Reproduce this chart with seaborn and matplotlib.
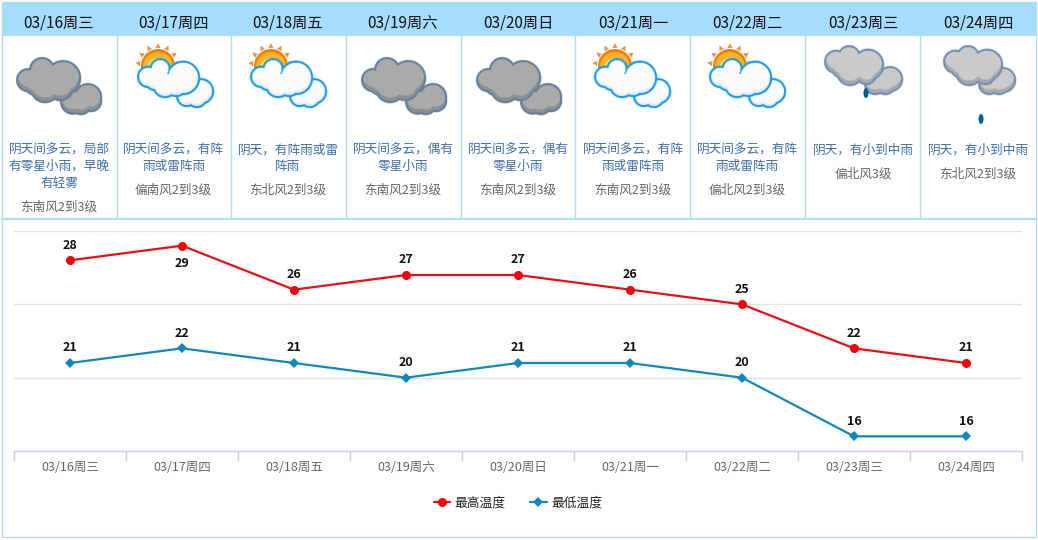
import matplotlib
matplotlib.use('Agg')
import matplotlib.pyplot as plt
from matplotlib.colors import to_rgb
from matplotlib.patches import Circle, Ellipse, Polygon, Rectangle
import seaborn as sns
import numpy as np
import pandas as pd

dias = ['03/16周三', '03/17周四', '03/18周五', '03/19周六', '03/20周日',
        '03/21周一', '03/22周二', '03/23周三', '03/24周四']
maximas = [28, 29, 26, 27, 27, 26, 25, 22, 21]
minimas = [21, 22, 21, 20, 21, 21, 20, 16, 16]
descricao = [
    ['阴天间多云，局部', '有零星小雨，早晚', '有轻雾'],
    ['阴天间多云，有阵', '雨或雷阵雨'],
    ['阴天，有阵雨或雷', '阵雨'],
    ['阴天间多云，偶有', '零星小雨'],
    ['阴天间多云，偶有', '零星小雨'],
    ['阴天间多云，有阵', '雨或雷阵雨'],
    ['阴天间多云，有阵', '雨或雷阵雨'],
    ['阴天，有小到中雨'],
    ['阴天，有小到中雨'],
]
vento = ['东南风2到3级', '偏南风2到3级', '东北风2到3级', '东南风2到3级', '东南风2到3级',
         '东南风2到3级', '偏北风2到3级', '偏北风3级', '东北风2到3级']
rotulo_maxima = '最高温度'
rotulo_minima = '最低温度'

W, H = 1038, 540
AZUL_BORDA = '#B4DCEE'

sns.set_theme(style='white')
plt.rcParams['font.family'] = ['Noto Sans CJK SC', 'DejaVu Sans']

fig = plt.figure(figsize=(W / 100, H / 100), dpi=100, facecolor='white')

# camada de fundo em pixels: tabela de cima e icones
bg = fig.add_axes([0, 0, 1, 1], zorder=0)


def nuvem(dx, lobos, borda, fundo, claro, lw=2.4, sombra=3.5):
    """Rasteriza uma nuvem a partir da distancia aos lobos (borda, sombra e parte clara)."""
    lobos = [(x + dx, y, r) for x, y, r in lobos]
    x0 = min(x - r for x, y, r in lobos) - 5
    x1 = max(x + r for x, y, r in lobos) + 5
    y0 = min(y - r for x, y, r in lobos) - 5
    y1 = max(y + r for x, y, r in lobos) + 5
    xx, yy = np.meshgrid(np.arange(x0, x1, 0.25), np.arange(y0, y1, 0.25))

    def dist(desloc):
        return np.min([np.hypot(xx - x, yy - y - desloc) - r for x, y, r in lobos], axis=0)

    d = dist(0)
    d_alto = dist(-sombra)
    img = np.zeros(xx.shape + (4,))
    img[..., :3] = to_rgb(fundo)
    img[d_alto < 0] = (*to_rgb(claro), 1)
    img[d >= 0] = (*to_rgb(borda), 1)
    img[..., 3] = np.clip((lw - d) * 2, 0, 1)
    bg.imshow(img, extent=(x0, x1, y1, y0), aspect='auto', interpolation='antialiased', zorder=3)


def icone_cinza(dx):
    tras = [(87, 97, 12), (72, 102, 10.5), (90, 101, 9), (80, 104, 9)]
    frente = [(28, 80, 10), (42, 70, 11), (63, 78, 16), (45, 88, 13), (60, 87, 12), (36, 83, 11)]
    nuvem(dx, tras, '#64809F', '#8F8F8F', '#ABABAB')
    nuvem(dx, frente, '#64809F', '#8F8F8F', '#ABABAB')


def icone_sol(dx):
    cx, cy = 158, 66
    for ang in np.linspace(172, 8, 7):
        a = np.radians(ang)
        u = np.array([np.cos(a), -np.sin(a)])
        n = np.array([-u[1], u[0]])
        c = np.array([cx + dx, cy])
        bg.add_patch(Polygon([c + u * 18 + n * 2.6, c + u * 18 - n * 2.6, c + u * 23],
                             fc='#E8974A', ec='none', zorder=2))
    bg.add_patch(Circle((cx + dx, cy), 17, fc='#E8830F', ec='none', zorder=2))
    bg.add_patch(Circle((cx + dx, cy + 1), 15, fc='#FBB32A', ec='none', zorder=2))
    bg.add_patch(Circle((cx + dx, cy + 3), 11, fc='#FFE24A', ec='none', zorder=2))
    tras = [(200, 92, 11), (186, 97, 8.5), (196, 98, 8.5)]
    frente = [(148, 77, 9), (160, 69, 8.5), (183, 78, 15), (165, 85, 11), (176, 85, 10), (155, 80, 9)]
    nuvem(dx, tras, '#1C9DE8', '#EDEDED', '#FBFBFB', sombra=2.5)
    nuvem(dx, frente, '#1C9DE8', '#EDEDED', '#FBFBFB', sombra=2.5)


def icone_chuva(dx, tras):
    frente = [(836, 62, 10), (849, 57, 9.5), (868, 65, 14), (850, 72, 12), (866, 74, 9), (843, 66, 11)]
    nuvem(dx, tras, '#7291B5', '#A9A9A9', '#CBCBCB')
    nuvem(dx, frente, '#7291B5', '#A9A9A9', '#CBCBCB')


# faixa do cabecalho e bordas
bg.add_patch(Rectangle((2, 2), 1034, 34, fc='#A6DDFF', ec='none'))
bg.add_patch(Rectangle((2, 2), 1034, 535, fc='none', ec=AZUL_BORDA, lw=1))
bg.plot([2, 1036], [219, 219], color=AZUL_BORDA, lw=1.6)
for x in [116.5, 230.5, 345.5, 460.5, 575, 690, 805, 920]:
    bg.plot([x, x], [36, 218], color=AZUL_BORDA, lw=1)

centros = [59, 173.5, 288, 403, 518, 633, 747, 863, 978]
for cx, dia, desc, v in zip(centros, dias, descricao, vento):
    bg.text(cx, 23, dia, ha='center', va='center', fontsize=11, color='#111111')
    for i, linha in enumerate(desc):
        bg.text(cx, 150 + 16.5 * i, linha, ha='center', va='center', fontsize=9.1, color='#3F6FA8')
    bg.text(cx, 151 + 16.5 * len(desc) + 6.5, v, ha='center', va='center', fontsize=9.1, color='#666666')

for dx in [0, 345, 460]:
    icone_cinza(dx)
for dx in [0, 113, 457, 572]:
    icone_sol(dx)

icone_chuva(0, [(890, 79, 11), (875, 84, 9), (885, 84, 9)])
icone_chuva(119, [(884, 80, 11), (870, 84, 9), (880, 84, 9)])
for x, y in [(866, 93), (981, 119)]:
    bg.add_patch(Ellipse((x, y), 5, 10, fc='#005F96', ec='none', zorder=4))

bg.set_xlim(0, W)
bg.set_ylim(H, 0)
bg.axis('off')

# grafico de temperatura
ax = fig.add_axes([14 / W, (H - 451) / H, 1008 / W, 220 / H], zorder=1)
ax.patch.set_alpha(0)

df = pd.DataFrame({'dia': dias, 'maxima': maximas, 'minima': minimas})
sns.lineplot(data=df, x='dia', y='maxima', ax=ax, color='#E60F14', linewidth=1.6,
             marker='o', markersize=6.5, markeredgewidth=0, markerfacecolor='#F5000A', label=rotulo_maxima)
sns.lineplot(data=df, x='dia', y='minima', ax=ax, color='#1088BE', linewidth=1.6,
             marker='D', markersize=4.6, markeredgewidth=0, label=rotulo_minima)

ax.set_xlim(-0.5, 8.5)
ax.set_ylim(15, 30)
ax.set_xlabel('')
ax.set_ylabel('')
ax.set_yticks([15, 20, 25, 30])
ax.tick_params(axis='y', left=False, labelleft=False)
ax.grid(axis='y', color='#E2E2E2', linewidth=1)
ax.set_axisbelow(True)
for lado in ['top', 'left', 'right']:
    ax.spines[lado].set_visible(False)
ax.spines['bottom'].set_color('#C6D4E2')
ax.spines['bottom'].set_linewidth(1)

ax.set_xticks(np.arange(9))
ax.set_xticklabels(dias, fontsize=9, color='#666666')
ax.tick_params(axis='x', which='major', length=0, pad=7)
ax.set_xticks(np.arange(10) - 0.5, minor=True)
ax.tick_params(axis='x', which='minor', bottom=True, length=7, width=1, color='#C6D4E2')

for i, (a, b) in enumerate(zip(maximas, minimas)):
    # o 29 fica abaixo do ponto, como no original
    dy = -13 if a == 29 else 11
    ax.annotate(str(a), (i, a), xytext=(0, dy), textcoords='offset points', ha='center', va='center',
                fontsize=9, fontweight='bold', color='#111111')
    ax.annotate(str(b), (i, b), xytext=(0, 11), textcoords='offset points', ha='center', va='center',
                fontsize=9, fontweight='bold', color='#111111')

leg = ax.legend(loc='center', bbox_to_anchor=(504 / 1008, (451 - 503) / 220), ncol=2, frameon=False,
                fontsize=9.2, handlelength=1.3, handletextpad=0.35, columnspacing=1.9)
for t in leg.get_texts():
    t.set_color('#222222')
    t.set_fontweight('medium')

fig.savefig('out.png', dpi=100, facecolor='white')
plt.close(fig)
